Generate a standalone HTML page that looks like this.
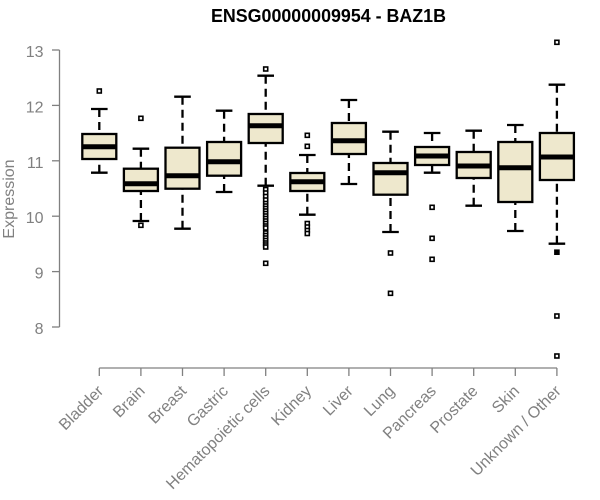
<!DOCTYPE html>
<html>
<head>
<meta charset="utf-8">
<style>
html,body{margin:0;padding:0;background:#fff;}
svg{display:block;}
text{font-family:"Liberation Sans",Arial,sans-serif;}
</style>
</head>
<body>
<svg width="600" height="500" viewBox="0 0 600 500" xmlns="http://www.w3.org/2000/svg">
<rect width="600" height="500" fill="#fff"/>
<!-- title -->
<text x="211" y="22" font-size="18" font-weight="bold" fill="#000" textLength="235" lengthAdjust="spacingAndGlyphs">ENSG00000009954 - BAZ1B</text>

<!-- y axis -->
<g stroke="#808080" stroke-width="1.3" fill="none">
<line x1="59.5" y1="50" x2="59.5" y2="327"/>
<line x1="52" y1="50" x2="59.5" y2="50"/>
<line x1="52" y1="105.4" x2="59.5" y2="105.4"/>
<line x1="52" y1="160.8" x2="59.5" y2="160.8"/>
<line x1="52" y1="216.2" x2="59.5" y2="216.2"/>
<line x1="52" y1="271.6" x2="59.5" y2="271.6"/>
<line x1="52" y1="327" x2="59.5" y2="327"/>
</g>
<g font-size="16" fill="#808080" text-anchor="end">
<text x="43.5" y="57">13</text>
<text x="43.5" y="112.4">12</text>
<text x="43.5" y="167.8">11</text>
<text x="43.5" y="223.2">10</text>
<text x="43.5" y="278.6">9</text>
<text x="43.5" y="334">8</text>
</g>
<text x="0" y="0" font-size="16" fill="#808080" text-anchor="middle" transform="translate(14,199) rotate(-90)">Expression</text>

<!-- x axis -->
<g stroke="#808080" stroke-width="1.3" fill="none">
<line x1="99.3" y1="368" x2="557" y2="368"/>
<line x1="99.3" y1="368" x2="99.3" y2="376"/>
<line x1="140.9" y1="368" x2="140.9" y2="376"/>
<line x1="182.5" y1="368" x2="182.5" y2="376"/>
<line x1="224.1" y1="368" x2="224.1" y2="376"/>
<line x1="265.7" y1="368" x2="265.7" y2="376"/>
<line x1="307.3" y1="368" x2="307.3" y2="376"/>
<line x1="348.9" y1="368" x2="348.9" y2="376"/>
<line x1="390.5" y1="368" x2="390.5" y2="376"/>
<line x1="432.1" y1="368" x2="432.1" y2="376"/>
<line x1="473.7" y1="368" x2="473.7" y2="376"/>
<line x1="515.3" y1="368" x2="515.3" y2="376"/>
<line x1="556.9" y1="368" x2="556.9" y2="376"/>
</g>
<g font-size="16" fill="#808080" text-anchor="end">
<text x="100.3" y="388" dy="0.35em" transform="rotate(-45 100.3 388)">Bladder</text>
<text x="141.9" y="388" dy="0.35em" transform="rotate(-45 141.9 388)">Brain</text>
<text x="183.5" y="388" dy="0.35em" transform="rotate(-45 183.5 388)">Breast</text>
<text x="225.1" y="388" dy="0.35em" transform="rotate(-45 225.1 388)">Gastric</text>
<text x="266.7" y="388" dy="0.35em" transform="rotate(-45 266.7 388)">Hematopoietic cells</text>
<text x="308.3" y="388" dy="0.35em" transform="rotate(-45 308.3 388)">Kidney</text>
<text x="349.9" y="388" dy="0.35em" transform="rotate(-45 349.9 388)">Liver</text>
<text x="391.5" y="388" dy="0.35em" transform="rotate(-45 391.5 388)">Lung</text>
<text x="433.1" y="388" dy="0.35em" transform="rotate(-45 433.1 388)">Pancreas</text>
<text x="474.7" y="388" dy="0.35em" transform="rotate(-45 474.7 388)">Prostate</text>
<text x="516.3" y="388" dy="0.35em" transform="rotate(-45 516.3 388)">Skin</text>
<text x="557.9" y="388" dy="0.35em" transform="rotate(-45 557.9 388)">Unknown / Other</text>
</g>

<!-- boxes -->
<g stroke="#000" fill="none">
<!-- Bladder cx=99.3 -->
<g>
<line x1="99.3" y1="109" x2="99.3" y2="134" stroke-width="2.3" stroke-dasharray="8 5"/>
<line x1="99.3" y1="172.7" x2="99.3" y2="159" stroke-width="2.3" stroke-dasharray="8 5"/>
<line x1="91" y1="109" x2="107.6" y2="109" stroke-width="2.3"/>
<line x1="91" y1="172.7" x2="107.6" y2="172.7" stroke-width="2.3"/>
<rect x="82.3" y="134" width="34" height="25" fill="#EEE8CD" stroke-width="2.3"/>
<line x1="82.3" y1="146.7" x2="116.3" y2="146.7" stroke-width="5"/>
<rect x="97.3" y="89" width="4" height="4" fill="#fff" stroke-width="1.6"/>
</g>
<!-- Brain cx=140.9 -->
<g>
<line x1="140.9" y1="148.7" x2="140.9" y2="168.7" stroke-width="2.3" stroke-dasharray="8 5"/>
<line x1="140.9" y1="221" x2="140.9" y2="191" stroke-width="2.3" stroke-dasharray="8 5"/>
<line x1="132.6" y1="148.7" x2="149.2" y2="148.7" stroke-width="2.3"/>
<line x1="132.6" y1="221" x2="149.2" y2="221" stroke-width="2.3"/>
<rect x="123.9" y="168.7" width="34" height="22.3" fill="#EEE8CD" stroke-width="2.3"/>
<line x1="123.9" y1="183.7" x2="157.9" y2="183.7" stroke-width="5"/>
<rect x="138.9" y="116.3" width="4" height="4" fill="#fff" stroke-width="1.6"/>
<rect x="138.9" y="223.3" width="4" height="4" fill="#fff" stroke-width="1.6"/>
</g>
<!-- Breast cx=182.5 -->
<g>
<line x1="182.5" y1="96.7" x2="182.5" y2="147.7" stroke-width="2.3" stroke-dasharray="8 5"/>
<line x1="182.5" y1="228.7" x2="182.5" y2="188.7" stroke-width="2.3" stroke-dasharray="8 5"/>
<line x1="174.2" y1="96.7" x2="190.8" y2="96.7" stroke-width="2.3"/>
<line x1="174.2" y1="228.7" x2="190.8" y2="228.7" stroke-width="2.3"/>
<rect x="165.5" y="147.7" width="34" height="41" fill="#EEE8CD" stroke-width="2.3"/>
<line x1="165.5" y1="175.7" x2="199.5" y2="175.7" stroke-width="5"/>
</g>
<!-- Gastric cx=224.1 -->
<g>
<line x1="224.1" y1="110.7" x2="224.1" y2="142" stroke-width="2.3" stroke-dasharray="8 5"/>
<line x1="224.1" y1="192" x2="224.1" y2="175.7" stroke-width="2.3" stroke-dasharray="8 5"/>
<line x1="215.8" y1="110.7" x2="232.4" y2="110.7" stroke-width="2.3"/>
<line x1="215.8" y1="192" x2="232.4" y2="192" stroke-width="2.3"/>
<rect x="207.1" y="142" width="34" height="33.7" fill="#EEE8CD" stroke-width="2.3"/>
<line x1="207.1" y1="161.7" x2="241.1" y2="161.7" stroke-width="5"/>
</g>
<!-- Hematopoietic cx=265.7 -->
<g>
<line x1="265.7" y1="75.7" x2="265.7" y2="114" stroke-width="2.3" stroke-dasharray="8 5"/>
<line x1="265.7" y1="185.7" x2="265.7" y2="143" stroke-width="2.3" stroke-dasharray="8 5"/>
<line x1="257.4" y1="75.7" x2="274" y2="75.7" stroke-width="2.3"/>
<line x1="257.4" y1="185.7" x2="274" y2="185.7" stroke-width="2.3"/>
<rect x="248.7" y="114" width="34" height="29" fill="#EEE8CD" stroke-width="2.3"/>
<line x1="248.7" y1="125.7" x2="282.7" y2="125.7" stroke-width="5"/>
<g fill="#fff" stroke-width="1.6">
<rect x="263.7" y="67" width="4" height="4"/>
<rect x="263.7" y="187.5" width="4" height="4"/>
<rect x="263.7" y="191" width="4" height="4"/>
<rect x="263.7" y="194.5" width="4" height="4"/>
<rect x="263.7" y="198" width="4" height="4"/>
<rect x="263.7" y="201.5" width="4" height="4"/>
<rect x="263.7" y="204" width="4" height="4"/>
<rect x="263.7" y="206.5" width="4" height="4"/>
<rect x="263.7" y="209" width="4" height="4"/>
<rect x="263.7" y="211.5" width="4" height="4"/>
<rect x="263.7" y="214" width="4" height="4"/>
<rect x="263.7" y="216.5" width="4" height="4"/>
<rect x="263.7" y="219" width="4" height="4"/>
<rect x="263.7" y="221.5" width="4" height="4"/>
<rect x="263.7" y="224" width="4" height="4"/>
<rect x="263.7" y="226" width="4" height="4"/>
<rect x="263.7" y="231" width="4" height="4"/>
<rect x="263.7" y="233.5" width="4" height="4"/>
<rect x="263.7" y="236" width="4" height="4"/>
<rect x="263.7" y="238.5" width="4" height="4"/>
<rect x="263.7" y="241" width="4" height="4"/>
<rect x="263.7" y="243" width="4" height="4"/>
<rect x="263.7" y="245" width="4" height="4"/>
<rect x="263.7" y="261.3" width="4" height="4"/>
</g>
</g>
<!-- Kidney cx=307.3 -->
<g>
<line x1="307.3" y1="155" x2="307.3" y2="173" stroke-width="2.3" stroke-dasharray="8 5"/>
<line x1="307.3" y1="214.7" x2="307.3" y2="191" stroke-width="2.3" stroke-dasharray="8 5"/>
<line x1="299" y1="155" x2="315.6" y2="155" stroke-width="2.3"/>
<line x1="299" y1="214.7" x2="315.6" y2="214.7" stroke-width="2.3"/>
<rect x="290.3" y="173" width="34" height="18" fill="#EEE8CD" stroke-width="2.3"/>
<line x1="290.3" y1="181.7" x2="324.3" y2="181.7" stroke-width="5"/>
<g fill="#fff" stroke-width="1.6">
<rect x="305.3" y="133.3" width="4" height="4"/>
<rect x="305.3" y="144.3" width="4" height="4"/>
<rect x="305.3" y="221.5" width="4" height="4"/>
<rect x="305.3" y="225" width="4" height="4"/>
<rect x="305.3" y="228.5" width="4" height="4"/>
<rect x="305.3" y="231.5" width="4" height="4"/>
</g>
</g>
<!-- Liver cx=348.9 -->
<g>
<line x1="348.9" y1="100" x2="348.9" y2="123" stroke-width="2.3" stroke-dasharray="8 5"/>
<line x1="348.9" y1="184" x2="348.9" y2="154" stroke-width="2.3" stroke-dasharray="8 5"/>
<line x1="340.6" y1="100" x2="357.2" y2="100" stroke-width="2.3"/>
<line x1="340.6" y1="184" x2="357.2" y2="184" stroke-width="2.3"/>
<rect x="331.9" y="123" width="34" height="31" fill="#EEE8CD" stroke-width="2.3"/>
<line x1="331.9" y1="140.7" x2="365.9" y2="140.7" stroke-width="5"/>
</g>
<!-- Lung cx=390.5 -->
<g>
<line x1="390.5" y1="131.7" x2="390.5" y2="163" stroke-width="2.3" stroke-dasharray="8 5"/>
<line x1="390.5" y1="232" x2="390.5" y2="194.7" stroke-width="2.3" stroke-dasharray="8 5"/>
<line x1="382.2" y1="131.7" x2="398.8" y2="131.7" stroke-width="2.3"/>
<line x1="382.2" y1="232" x2="398.8" y2="232" stroke-width="2.3"/>
<rect x="373.5" y="163" width="34" height="31.7" fill="#EEE8CD" stroke-width="2.3"/>
<line x1="373.5" y1="172.7" x2="407.5" y2="172.7" stroke-width="5"/>
<g fill="#fff" stroke-width="1.6">
<rect x="388.5" y="251" width="4" height="4"/>
<rect x="388.5" y="291.3" width="4" height="4"/>
</g>
</g>
<!-- Pancreas cx=432.1 -->
<g>
<line x1="432.1" y1="133" x2="432.1" y2="147" stroke-width="2.3" stroke-dasharray="8 5"/>
<line x1="432.1" y1="172.7" x2="432.1" y2="165" stroke-width="2.3" stroke-dasharray="8 5"/>
<line x1="423.8" y1="133" x2="440.4" y2="133" stroke-width="2.3"/>
<line x1="423.8" y1="172.7" x2="440.4" y2="172.7" stroke-width="2.3"/>
<rect x="415.1" y="147" width="34" height="18" fill="#EEE8CD" stroke-width="2.3"/>
<line x1="415.1" y1="156" x2="449.1" y2="156" stroke-width="5"/>
<g fill="#fff" stroke-width="1.6">
<rect x="430.1" y="205.3" width="4" height="4"/>
<rect x="430.1" y="236.3" width="4" height="4"/>
<rect x="430.1" y="257.3" width="4" height="4"/>
</g>
</g>
<!-- Prostate cx=473.7 -->
<g>
<line x1="473.7" y1="130.7" x2="473.7" y2="152" stroke-width="2.3" stroke-dasharray="8 5"/>
<line x1="473.7" y1="205.7" x2="473.7" y2="178" stroke-width="2.3" stroke-dasharray="8 5"/>
<line x1="465.4" y1="130.7" x2="482" y2="130.7" stroke-width="2.3"/>
<line x1="465.4" y1="205.7" x2="482" y2="205.7" stroke-width="2.3"/>
<rect x="456.7" y="152" width="34" height="26" fill="#EEE8CD" stroke-width="2.3"/>
<line x1="456.7" y1="166" x2="490.7" y2="166" stroke-width="5"/>
</g>
<!-- Skin cx=515.3 -->
<g>
<line x1="515.3" y1="125" x2="515.3" y2="142" stroke-width="2.3" stroke-dasharray="8 5"/>
<line x1="515.3" y1="231" x2="515.3" y2="202" stroke-width="2.3" stroke-dasharray="8 5"/>
<line x1="507" y1="125" x2="523.6" y2="125" stroke-width="2.3"/>
<line x1="507" y1="231" x2="523.6" y2="231" stroke-width="2.3"/>
<rect x="498.3" y="142" width="34" height="60" fill="#EEE8CD" stroke-width="2.3"/>
<line x1="498.3" y1="167.7" x2="532.3" y2="167.7" stroke-width="5"/>
</g>
<!-- Unknown cx=556.9 -->
<g>
<line x1="556.9" y1="84.7" x2="556.9" y2="133" stroke-width="2.3" stroke-dasharray="8 5"/>
<line x1="556.9" y1="243.7" x2="556.9" y2="180" stroke-width="2.3" stroke-dasharray="8 5"/>
<line x1="548.6" y1="84.7" x2="565.2" y2="84.7" stroke-width="2.3"/>
<line x1="548.6" y1="243.7" x2="565.2" y2="243.7" stroke-width="2.3"/>
<rect x="539.9" y="133" width="34" height="47" fill="#EEE8CD" stroke-width="2.3"/>
<line x1="539.9" y1="157" x2="573.9" y2="157" stroke-width="5"/>
<g fill="#fff" stroke-width="1.6">
<rect x="554.9" y="40.3" width="4" height="4"/>
<rect x="554.9" y="250.2" width="4" height="4" fill="#000"/>
<rect x="554.9" y="314" width="4" height="4"/>
<rect x="554.9" y="354" width="4" height="4"/>
</g>
</g>
</g>
</svg>
</body>
</html>
